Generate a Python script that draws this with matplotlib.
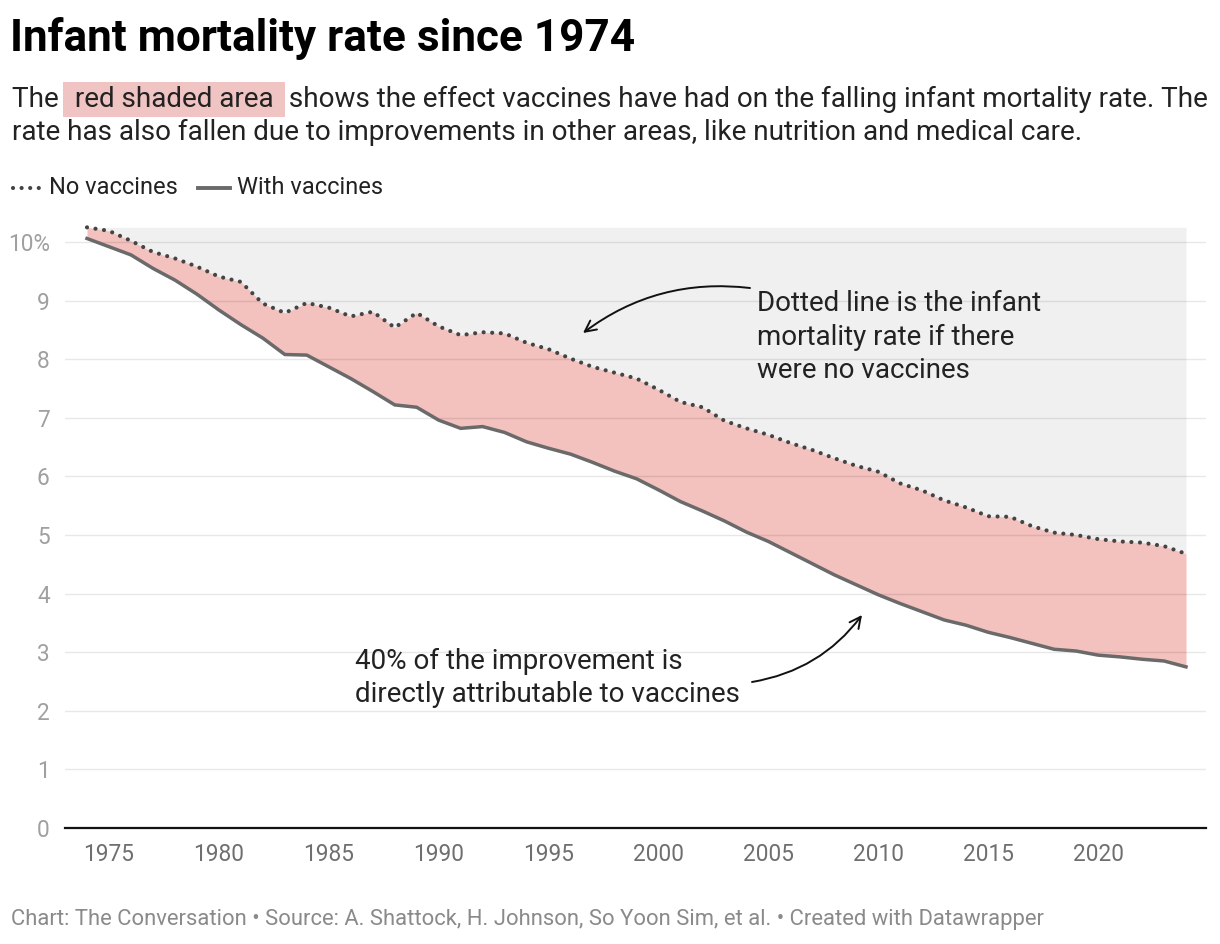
import matplotlib
matplotlib.use("Agg")
import matplotlib.pyplot as plt
import numpy as np
from matplotlib.lines import Line2D
from matplotlib.patches import FancyArrowPatch

plt.rcParams['font.family'] = ['Roboto', 'DejaVu Sans']

years = list(range(1974, 2025))
no_vaccines = [10.25, 10.19, 10.02, 9.83, 9.72, 9.58, 9.41, 9.32, 8.95, 8.79,
               8.96, 8.88, 8.73, 8.81, 8.54, 8.79, 8.56, 8.41, 8.46, 8.44,
               8.28, 8.17, 8.01, 7.87, 7.77, 7.67, 7.48, 7.27, 7.18, 6.95,
               6.82, 6.71, 6.57, 6.45, 6.31, 6.18, 6.08, 5.88, 5.76, 5.59,
               5.47, 5.32, 5.31, 5.15, 5.04, 5.00, 4.93, 4.89, 4.87, 4.81,
               4.68]
with_vaccines = [10.06, 9.92, 9.78, 9.55, 9.35, 9.11, 8.84, 8.59, 8.36, 8.08,
                 8.07, 7.87, 7.67, 7.45, 7.22, 7.18, 6.96, 6.82, 6.85, 6.75,
                 6.59, 6.48, 6.38, 6.24, 6.09, 5.96, 5.77, 5.57, 5.41, 5.24,
                 5.05, 4.89, 4.70, 4.51, 4.32, 4.15, 3.98, 3.83, 3.69, 3.55,
                 3.46, 3.34, 3.25, 3.15, 3.05, 3.02, 2.95, 2.92, 2.88, 2.85,
                 2.75]
x_ticks = [1975, 1980, 1985, 1990, 1995, 2000, 2005, 2010, 2015, 2020]
y_ticks = list(range(0, 11))
y_labels = ['0', '1', '2', '3', '4', '5', '6', '7', '8', '9', '10%']

W, H = 1220, 944
fig = plt.figure(figsize=(W / 100, H / 100), dpi=100)

def fx(px):
    return px / W

def fy(py):
    return 1 - py / H

# axes geometry in pixels
ax_left, ax_right = 65, 1206
y0_px, unit_px = 828, 58.6
ymax = 10.4
ax_top = y0_px - ymax * unit_px
ax = fig.add_axes([fx(ax_left), fy(y0_px), (ax_right - ax_left) / W, (y0_px - ax_top) / H])

yrs = np.array(years)
nov = np.array(no_vaccines)
wv = np.array(with_vaccines)

x_left = 1974 - (87 - ax_left) / 21.98
x_right = 2024 + (ax_right - 1186) / 21.98
ax.set_xlim(x_left, x_right)
ax.set_ylim(0, ymax)

ax.fill_between(yrs, nov, nov.max(), color='#f0f0f0', lw=0, zorder=1)
ax.fill_between(yrs, wv, nov, color='#f3c1be', lw=0, zorder=1)

for yt in y_ticks[1:]:
    ax.axhline(yt, color='black', alpha=0.09, lw=1.0, zorder=2)
ax.axhline(0, color='#111111', lw=1.6, zorder=4, clip_on=False)

ax.plot(yrs, wv, color='#6a6a6a', lw=2.5, zorder=5, solid_joinstyle='round')
ax.plot(yrs, nov, color='#444444', lw=3.0, zorder=5,
        linestyle=(0, (0.01, 2.05)), dash_capstyle='round')

for s in ax.spines.values():
    s.set_visible(False)
ax.set_xticks(x_ticks)
ax.set_xticklabels([str(t) for t in x_ticks])
ax.set_yticks(y_ticks)
ax.set_yticklabels(y_labels)
ax.tick_params(axis='both', length=0, labelsize=16.3)
ax.tick_params(axis='x', colors='#6f6f6f', pad=11)
ax.tick_params(axis='y', colors='#a0a0a0', pad=11)
for lab in ax.get_yticklabels():
    lab.set_color('#a0a0a0')
for lab in ax.get_xticklabels():
    lab.set_color('#6f6f6f')

# annotations
def px2data(px, py):
    return 1974 + (px - 87) / 21.98, (y0_px - py) / unit_px

ann_fs = 20
tx, ty = px2data(757, 337)
ax.text(tx, ty, "Dotted line is the infant\nmortality rate if there\nwere no vaccines",
        fontsize=ann_fs, color='#222222', ha='left', va='center', linespacing=1.3, zorder=6)
tx, ty = px2data(355, 678)
ax.text(tx, ty, "40% of the improvement is\ndirectly attributable to vaccines",
        fontsize=ann_fs, color='#222222', ha='left', va='center', linespacing=1.3, zorder=6)

a1 = FancyArrowPatch(px2data(750, 288), px2data(583, 333),
                     connectionstyle="arc3,rad=0.2", arrowstyle="->,head_length=8,head_width=4",
                     color='#111111', lw=1.4, zorder=6, shrinkA=0, shrinkB=0)
ax.add_patch(a1)
a2 = FancyArrowPatch(px2data(752, 682), px2data(862, 615),
                     connectionstyle="arc3,rad=0.2", arrowstyle="->,head_length=8,head_width=4",
                     color='#111111', lw=1.4, zorder=6, shrinkA=0, shrinkB=0)
ax.add_patch(a2)

# title
fig.text(fx(10), fy(38), "Infant mortality rate since 1974", fontsize=31.8, fontweight='bold',
         color='#000000', ha='left', va='center')

# subtitle with highlighted phrase
sub_fs = 20.1
t1 = fig.text(fx(12), fy(107), "The ", fontsize=sub_fs, color='#222222', ha='left', va='baseline')
t2 = fig.text(0, 0, " red shaded area ", fontsize=sub_fs, color='#222222', ha='left', va='baseline',
              bbox=dict(boxstyle='square,pad=0.16', fc='#f0c4c2', ec='none'))
t3 = fig.text(0, 0, " shows the effect vaccines have had on the falling infant mortality rate. The",
              fontsize=sub_fs, color='#222222', ha='left', va='baseline')
fig.canvas.draw()
r = fig.canvas.get_renderer()
e1 = t1.get_window_extent(r)
t2.set_position((e1.x1 / W + 2 / W, fy(107)))
fig.canvas.draw()
e2 = t2.get_window_extent(r)
t3.set_position((e2.x1 / W + 2 / W, fy(107)))
fig.text(fx(12), fy(140), "rate has also fallen due to improvements in other areas, like nutrition and medical care.",
         fontsize=sub_fs, color='#222222', ha='left', va='baseline')

# legend
ly = fy(188)
fig.add_artist(Line2D([fx(13), fx(41)], [ly, ly], color='#444444', lw=3.0,
                      linestyle=(0, (0.01, 2.05)), dash_capstyle='round'))
fig.text(fx(49), ly, "No vaccines", fontsize=17, color='#222222', ha='left', va='center')
fig.add_artist(Line2D([fx(198), fx(230)], [ly, ly], color='#6a6a6a', lw=2.8))
fig.text(fx(237), ly, "With vaccines", fontsize=17, color='#222222', ha='left', va='center')

# footer
fig.text(fx(11), fy(920), "Chart: The Conversation \u2022 Source: A. Shattock, H. Johnson, So Yoon Sim, et al. \u2022 Created with Datawrapper",
         fontsize=15.8, color='#8a8a8a', ha='left', va='center')

fig.savefig("out.png", dpi=100, facecolor='white')
